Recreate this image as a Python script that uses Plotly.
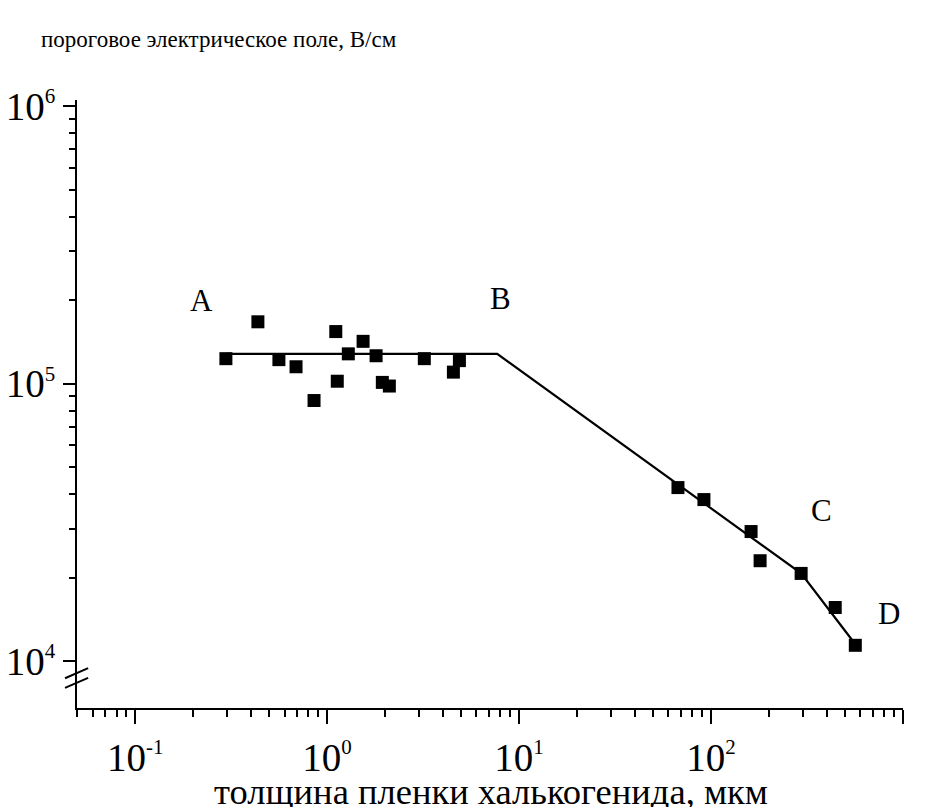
import math
import plotly.graph_objects as go

# ---- data ----
thickness_um = [0.297, 0.436, 0.561, 0.689, 0.855, 1.11, 1.13, 1.29, 1.54, 1.80, 1.94, 2.11,
                3.21, 4.55, 4.89, 67.3, 91.9, 161.8, 180.3, 295, 444, 565]
field_v_cm = [1.23e5, 1.67e5, 1.22e5, 1.15e5, 8.69e4, 1.54e5, 1.02e5, 1.28e5, 1.42e5, 1.26e5,
              1.01e5, 9.8e4, 1.23e5, 1.10e5, 1.21e5, 4.22e4, 3.82e4, 2.93e4, 2.30e4, 2.07e4,
              1.56e4, 1.14e4]

fit_x = [0.297, 7.7, 295, 560]
fit_y = [1.28e5, 1.28e5, 2.07e4, 1.16e4]

region_labels = ["A", "B", "C", "D"]
region_label_x = [0.222, 8.0, 375, 850]
region_label_y = [1.99e5, 2.02e5, 3.48e4, 1.48e4]

x_major = [0.1, 1, 10, 100, 1000]
x_exponents = ["-1", "0", "1", "2", "3"]
y_major = [1e4, 1e5, 1e6]
y_exponents = ["4", "5", "6"]

x_minor = [m * d for d in [0.01, 0.1, 1, 10, 100] for m in range(2, 10) if 0.05 <= m * d <= 1000]
y_minor = [m * d for d in [1e4, 1e5] for m in range(2, 10)]

title_y = "пороговое электрическое поле, В/см"
title_x = "толщина пленки халькогенида, мкм"

FONT = "Liberation Serif"


def pow10(e):
    return "10<sup><span style='font-size:21px'>" + e + "</span></sup>"


fig = go.Figure()
fig.add_trace(go.Scatter(x=fit_x, y=fit_y, mode="lines",
                         line=dict(color="black", width=2.2), hoverinfo="skip"))
fig.add_trace(go.Scatter(x=thickness_um, y=field_v_cm, mode="markers",
                         marker=dict(symbol="square", size=13, color="black",
                                     line=dict(width=0))))

for t, xv, yv in zip(region_labels, region_label_x, region_label_y):
    fig.add_annotation(x=math.log10(xv), y=math.log10(yv), text=t, showarrow=False,
                       font=dict(family=FONT, size=31, color="black"),
                       xanchor="center", yanchor="middle")

fig.add_annotation(xref="paper", yref="paper", x=-0.046, y=1.099, text=title_y,
                   showarrow=False, xanchor="left", yanchor="middle",
                   font=dict(family=FONT, size=23, color="black"))
fig.add_annotation(xref="paper", yref="paper", x=0.501, y=-0.137, text=title_x,
                   showarrow=False, xanchor="center", yanchor="middle",
                   font=dict(family=FONT, size=36.5, color="black"))

# axis-break marks on the y axis
for y0 in [0.049, 0.033]:
    fig.add_shape(type="line", xref="paper", yref="paper",
                  x0=-0.0145, x1=0.0135, y0=y0, y1=y0 + 0.0165,
                  line=dict(color="black", width=2))

fig.update_layout(
    width=926, height=807,
    margin=dict(l=77, r=23, t=100, b=99, autoexpand=False),
    paper_bgcolor="white", plot_bgcolor="white",
    showlegend=False,
    font=dict(family=FONT, color="black"),
    xaxis=dict(type="log", range=[-1.303, 3.0005], showgrid=False, zeroline=False,
               automargin=False,
               showline=True, linecolor="black", linewidth=2,
               tickmode="array", tickvals=x_major, ticktext=[pow10(e) for e in x_exponents],
               ticks="outside", ticklen=14, tickwidth=2, tickcolor="black",
               tickfont=dict(family=FONT, size=39, color="black"),
               minor=dict(tickmode="array", tickvals=x_minor, ticks="outside",
                          ticklen=7, tickwidth=2, tickcolor="black", showgrid=False)),
    yaxis=dict(type="log", range=[3.831, 6.022], showgrid=False, zeroline=False,
               automargin=False,
               showline=True, linecolor="black", linewidth=2,
               tickmode="array", tickvals=y_major, ticktext=[pow10(e) for e in y_exponents],
               ticks="outside", ticklen=12, tickwidth=2, tickcolor="black",
               tickfont=dict(family=FONT, size=39, color="black"),
               minor=dict(tickmode="array", tickvals=y_minor, ticks="outside",
                          ticklen=6, tickwidth=2, tickcolor="black", showgrid=False)),
)

fig.write_html("out.html", config={"displayModeBar": False},
               post_script="document.body.style.margin='0';document.body.style.overflow='hidden';")
